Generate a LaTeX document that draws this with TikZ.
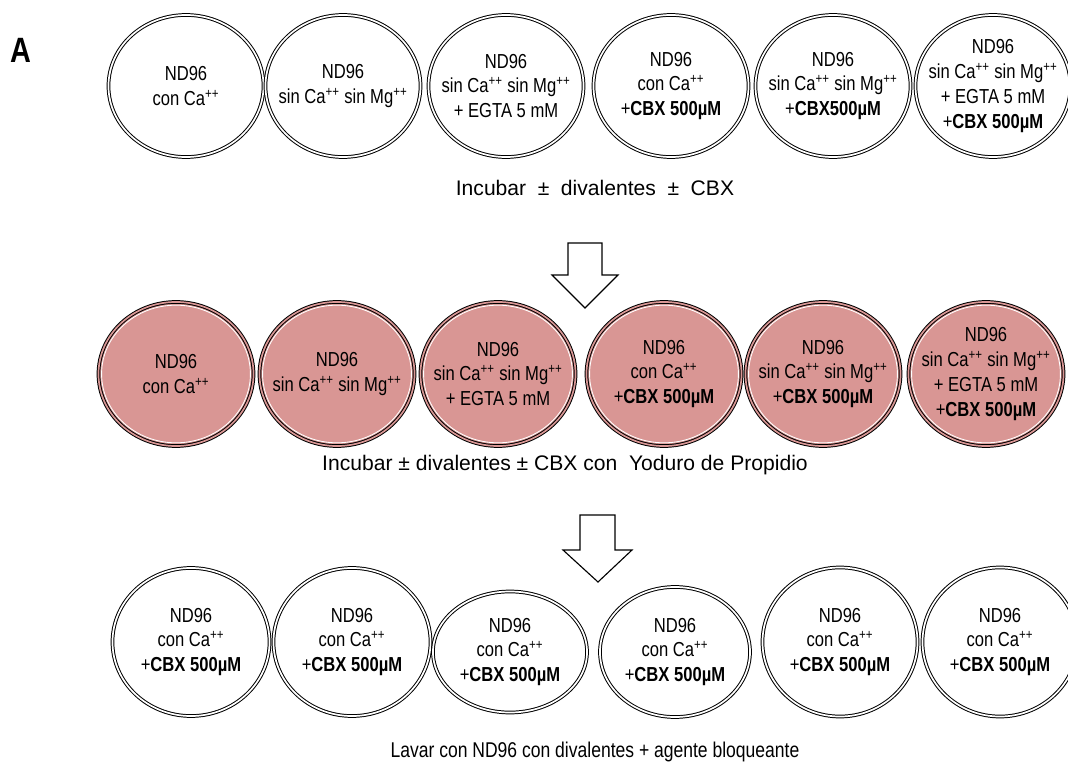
\documentclass[tikz,border=0pt]{standalone}
\usepackage{fontspec}
\setmainfont{Liberation Sans}
\newfontfamily\narrowfont[FakeStretch=0.82]{Liberation Sans}
\usetikzlibrary{shapes.geometric}
\definecolor{dishpink}{HTML}{D99694}
\newcommand{\dplus}{\textsuperscript{++}}
\tikzset{
 dish/.style = {ellipse, draw, line width=0.7pt, double=white,
           double distance=1.2pt, inner sep=-1cm,
           minimum width=3.875cm, minimum height=3.55cm, align=center,
           font=\narrowfont\fontsize{14.4}{17.7}\selectfont},
 pinkdish/.style = {dish, fill=dishpink, double=dishpink,
           minimum height=3.6cm,
           path picture={\draw[white,line width=0.6pt]
             (path picture bounding box.center)
             ellipse [x radius=1.86cm, y radius=1.72cm];}},
 steptext/.style = {font=\fontsize{15}{17}\selectfont},
 blockarrow/.style = {draw, fill=white, line width=0.8pt, line join=miter}
}

\begin{document}
\begin{tikzpicture}[x=0.025cm, y=-0.025cm]
  \useasboundingbox (0,0) rectangle (1068,781);

  \node[font=\narrowfont\bfseries\fontsize{25}{25}\selectfont] (panel) at (21,50) {A};

  % Row 1
  \node[dish] (a1) at (186,86) {ND96\\con Ca\dplus};
  \node[dish] (a2) at (343,86) {ND96\\sin Ca\dplus{} sin Mg\dplus};
  \node[dish] (a3) at (506,86) {ND96\\sin Ca\dplus{} sin Mg\dplus\\+ EGTA 5 mM};
  \node[dish] (a4) at (671,86) {ND96\\con Ca\dplus\\+\textbf{CBX 500µM}};
  \node[dish] (a5) at (833,86) {ND96\\sin Ca\dplus{} sin Mg\dplus\\+\textbf{CBX500µM}};
  \node[dish] (a6) at (993,86)
  {ND96\\sin Ca\dplus{} sin Mg\dplus\\+ EGTA 5 mM\\+\textbf{CBX 500µM}};

  \node[steptext] (stepA) at (595,188)
  {Incubar\hspace{0.55em}±\hspace{0.55em}divalentes\hspace{0.55em}±\hspace{0.55em}CBX};

  \draw[blockarrow] (568,243) -- (602,243) -- (602,275) -- (618,275)
    -- (585,308) -- (552,275) -- (568,275) -- cycle;

  % Row 2
  \node[pinkdish] (b1) at (176,374) {ND96\\con Ca\dplus};
  \node[pinkdish] (b2) at (337,374) {ND96\\sin Ca\dplus{} sin Mg\dplus};
  \node[pinkdish] (b3) at (498,374) {ND96\\sin Ca\dplus{} sin Mg\dplus\\+ EGTA 5 mM};
  \node[pinkdish] (b4) at (664,374) {ND96\\con Ca\dplus\\+\textbf{CBX 500µM}};
  \node[pinkdish] (b5) at (823,374) {ND96\\sin Ca\dplus{} sin Mg\dplus\\+\textbf{CBX 500µM}};
  \node[pinkdish] (b6) at (986,374)
  {ND96\\sin Ca\dplus{} sin Mg\dplus\\+ EGTA 5 mM\\+\textbf{CBX 500µM}};

  \node[steptext] (stepB) at (565,465)
  {Incubar ± divalentes ± CBX con \ Yoduro de Propidio};

  \draw[blockarrow] (580,515) -- (615,515) -- (615,550) -- (632,550)
    -- (598,582) -- (563,550) -- (580,550) -- cycle;

  % Row 3
  \node[dish, minimum width=3.925cm, minimum height=3.7cm] (c1) at (191,642)
  {ND96\\con Ca\dplus\\+\textbf{CBX 500µM}};
  \node[dish, minimum width=3.925cm, minimum height=3.7cm] (c2) at (352,642)
  {ND96\\con Ca\dplus\\+\textbf{CBX 500µM}};
  \node[dish, minimum width=3.85cm, minimum height=3.025cm] (c3) at (510,652)
  {ND96\\con Ca\dplus\\+\textbf{CBX 500µM}};
  \node[dish, minimum width=3.75cm, minimum height=3.25cm] (c4) at (675,652)
  {ND96\\con Ca\dplus\\+\textbf{CBX 500µM}};
  \node[dish, minimum width=3.875cm, minimum height=3.725cm] (c5) at (840,642)
  {ND96\\con Ca\dplus\\+\textbf{CBX 500µM}};
  \node[dish, minimum width=3.875cm, minimum height=3.725cm] (c6) at (1000,642)
  {ND96\\con Ca\dplus\\+\textbf{CBX 500µM}};

  \node[steptext, font=\narrowfont\fontsize{15.2}{17}\selectfont] (stepC) at (595,752)
  {Lavar con ND96 con divalentes + agente bloqueante};
\end{tikzpicture}
\end{document}
